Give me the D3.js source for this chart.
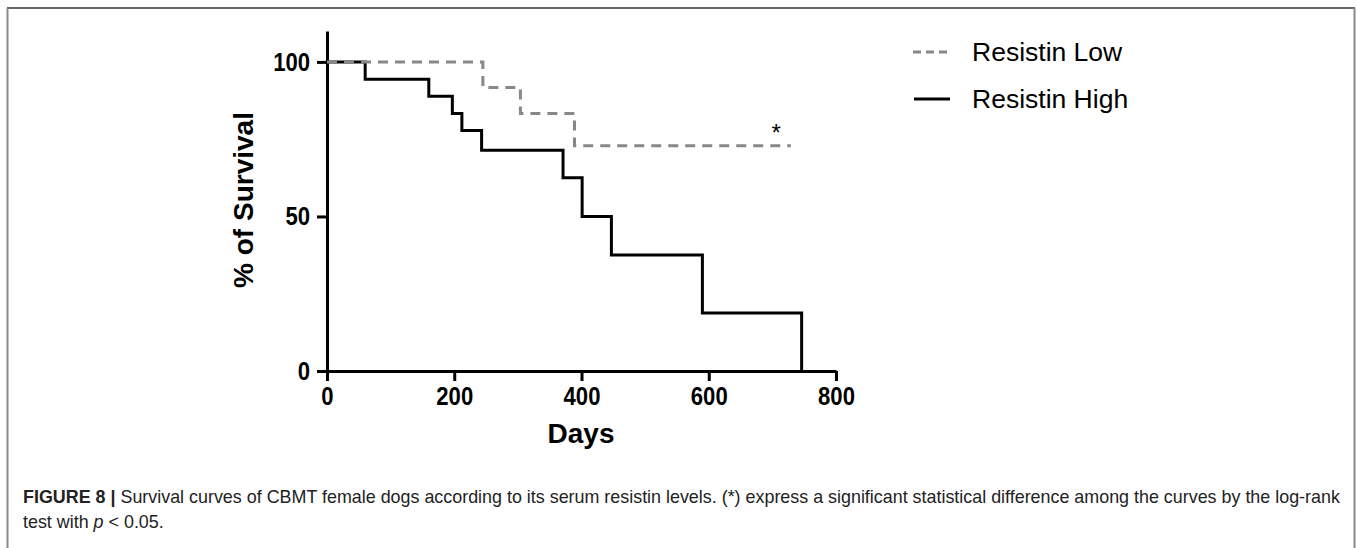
<!DOCTYPE html>
<html>
<head>
<meta charset="utf-8">
<script src="https://cdn.jsdelivr.net/npm/d3@7"></script>
<style>
body { margin: 0; background: #fff; }
svg { display: block; }
</style>
</head>
<body>
<svg id="chart"></svg>
<script>
// survival data
var lowDays = [0, 245, 304, 389, 729];
var lowSurv = [100, 91.7, 83.3, 72.9, 72.9];
var highDays = [0, 60, 160, 197, 212, 243, 371, 401, 447, 590, 746];
var highSurv = [100, 94.4, 88.9, 83.3, 77.8, 71.4, 62.5, 50, 37.5, 18.75, 0];
var xTicks = [0, 200, 400, 600, 800];
var yTicks = [0, 50, 100];
var seriesNames = ["Resistin Low", "Resistin High"];

var W = 1357, H = 548;
var svg = d3.select("#chart").attr("width", W).attr("height", H);
var font = "'Liberation Sans', Arial, Helvetica, sans-serif";

// figure frame
svg.append("line").attr("x1", 7).attr("x2", 1355).attr("y1", 8).attr("y2", 8)
  .attr("stroke", "#333").attr("stroke-width", 1.5);
svg.append("line").attr("x1", 7.5).attr("x2", 7.5).attr("y1", 8).attr("y2", H)
  .attr("stroke", "#888").attr("stroke-width", 2);
svg.append("line").attr("x1", 1354.5).attr("x2", 1354.5).attr("y1", 8).attr("y2", H)
  .attr("stroke", "#888").attr("stroke-width", 2);

var xScale = d3.scaleLinear().domain([0, 800]).range([327, 836]);
var yScale = d3.scaleLinear().domain([0, 110]).range([371, 31]);

var line = d3.line()
  .x(function(d) { return xScale(d[0]); })
  .y(function(d) { return yScale(d[1]); })
  .curve(d3.curveStepAfter);

var lowData = lowDays.map(function(d, i) { return [d, lowSurv[i]]; });
var highData = highDays.map(function(d, i) { return [d, highSurv[i]]; });

// axes
var xAxis = d3.axisBottom(xScale).tickValues(xTicks).tickSize(10).tickSizeOuter(0).tickPadding(6);
var yAxis = d3.axisLeft(yScale).tickValues(yTicks).tickSize(10).tickSizeOuter(0).tickPadding(5);

var gx = svg.append("g").attr("transform", "translate(0," + yScale(0) + ")").call(xAxis);
var gy = svg.append("g").attr("transform", "translate(" + xScale(0) + ",0)").call(yAxis);

[gx, gy].forEach(function(g) {
  g.select(".domain").attr("stroke", "#000").attr("stroke-width", 3);
  g.selectAll(".tick line").attr("stroke", "#000").attr("stroke-width", 3);
  g.selectAll(".tick text")
    .attr("fill", "#000")
    .style("font-family", font)
    .style("font-weight", "bold")
    .style("font-size", "26px");
});
gx.selectAll(".tick text").attr("transform", "scale(0.85,1)");
gy.selectAll(".tick text").attr("x", -17 / 0.85).attr("transform", "scale(0.85,1)");

// curves
svg.append("path").datum(highData).attr("d", line)
  .attr("fill", "none").attr("stroke", "#000").attr("stroke-width", 3);
svg.append("path").datum(lowData).attr("d", line)
  .attr("fill", "none").attr("stroke", "#888").attr("stroke-width", 3)
  .attr("stroke-dasharray", "10,7");

// significance mark
svg.append("text").attr("x", xScale(706)).attr("y", yScale(74.5))
  .attr("text-anchor", "middle").style("font-family", font).style("font-size", "24px")
  .text("*");

// axis titles
svg.append("text")
  .attr("transform", "translate(253,200) rotate(-90)")
  .attr("text-anchor", "middle")
  .style("font-family", font).style("font-weight", "bold").style("font-size", "28px")
  .text("% of Survival");
svg.append("text")
  .attr("x", 581).attr("y", 443)
  .attr("text-anchor", "middle")
  .style("font-family", font).style("font-weight", "bold").style("font-size", "28px")
  .text("Days");

// legend
var legend = svg.append("g");
var legY = [52, 99];
legend.append("line").attr("x1", 913).attr("x2", 952).attr("y1", legY[0]).attr("y2", legY[0])
  .attr("stroke", "#888").attr("stroke-width", 3).attr("stroke-dasharray", "8,5");
legend.append("line").attr("x1", 914).attr("x2", 950).attr("y1", legY[1]).attr("y2", legY[1])
  .attr("stroke", "#000").attr("stroke-width", 3);
seriesNames.forEach(function(n, i) {
  legend.append("text").attr("x", 972).attr("y", legY[i] + 9)
    .style("font-family", font).style("font-size", "26.5px")
    .text(n);
});

// caption
var cap = svg.append("text").attr("x", 23).attr("y", 503)
  .style("font-family", font).style("font-size", "17.9px").attr("fill", "#222");
cap.append("tspan").style("font-weight", "bold").text("FIGURE 8 | ");
cap.append("tspan").text("Survival curves of CBMT female dogs according to its serum resistin levels. (*) express a significant statistical difference among the curves by the log-rank");
var cap2 = svg.append("text").attr("x", 23).attr("y", 528)
  .style("font-family", font).style("font-size", "17.9px").attr("fill", "#222");
cap2.append("tspan").text("test with ");
cap2.append("tspan").style("font-style", "italic").text("p");
cap2.append("tspan").text(" < 0.05.");
</script>
</body>
</html>
